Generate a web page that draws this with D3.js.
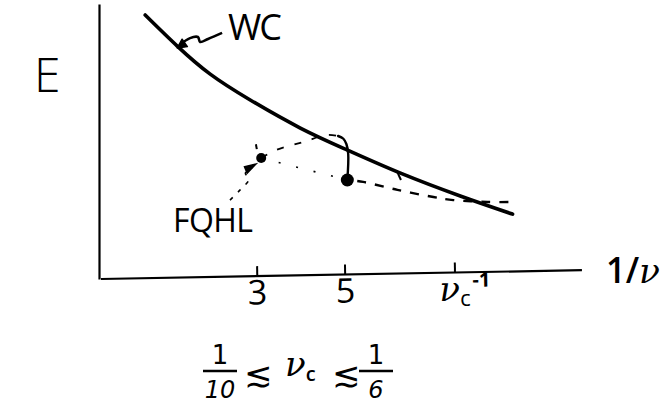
<!DOCTYPE html>
<html><head><meta charset="utf-8">
<script src="https://cdn.jsdelivr.net/npm/d3@7"></script>
<style>html,body{margin:0;padding:0;background:#fff}</style>
</head><body><svg id="chart" width="667" height="405"></svg>
<script>
// Wigner crystal (WC) energy against inverse filling 1/ν
const wcInvNu  = [0.46, 1.19, 1.94, 2.85, 3.99, 5.06, 6.27, 7.63, 8.82];
const wcEnergy = [9.6, 8.47, 7.45, 6.51, 5.49, 4.69, 3.85, 3.02, 2.36];

// FQHL cusp minima at ν = 1/3 and ν = 1/5
const cuspInvNu  = [3.1, 5.06];
const cuspEnergy = [4.4, 3.6];

// FQHL branch rising from the 1/3 cusp toward the WC curve (dashed)
const riseInvNu  = [3.1, 3.44, 4.06, 4.6, 4.85];
const riseEnergy = [4.4, 4.69, 4.98, 5.24, 5.2];
// ...and falling sharply into the 1/5 cusp (solid)
const dropInvNu  = [4.85, 4.97, 5.04, 5.08, 5.06];
const dropEnergy = [5.2, 5.1, 4.9, 4.55, 3.6];

// line through the cusp minima, continued past the crossing with WC
const envInvNu  = [3.1, 5.06, 5.42, 6.2, 7.02, 7.47, 8.25, 8.75];
const envEnergy = [4.4, 3.6, 3.53, 3.24, 2.98, 2.87, 2.8, 2.8];

// axis ticks on 1/ν
const tickValues = [3, 5, 7.5];
const tickLabels = ["3", "5", "nu_c^-1"];

const svg = d3.select("#chart");
const x = d3.scaleLinear().domain([-0.5, 10.4]).range([103, 582]);
const y = d3.scaleLinear().domain([0, 10]).range([279, 4]);
const line = (xs, ys, curve) => d3.line().x(d => x(d[0])).y(d => y(d[1]))
  .curve(curve || d3.curveCatmullRom.alpha(0.5))(xs.map((v, i) => [v, ys[i]]));

const ink = "#000";
const sans = "'Open Sans', 'DejaVu Sans', sans-serif";
const serif = "'DejaVu Serif', serif";

// vertical E axis (no ticks)
svg.append("g").attr("transform", "translate(99,0)")
  .call(d3.axisLeft(y).tickValues([]).tickSizeOuter(0))
  .call(g => g.select(".domain").attr("stroke", ink).attr("stroke-width", 2.2));

// horizontal 1/ν axis, ticks pointing inward
const xAxis = svg.append("g")
  .attr("transform", "translate(0,279) rotate(-1.05,101,0)")
  .call(d3.axisBottom(x).tickValues(tickValues).tickSizeInner(-10).tickSizeOuter(0).tickPadding(4)
    .tickFormat((d, i) => tickLabels[i]));
xAxis.select(".domain").attr("stroke", ink).attr("stroke-width", 2.2).attr("d", "M101,0H582");
xAxis.selectAll(".tick line").attr("stroke", ink).attr("stroke-width", 2);
xAxis.selectAll(".tick text").attr("fill", ink).attr("font-family", sans)
  .attr("font-size", 34).attr("font-weight", 500);
xAxis.selectAll(".tick text").filter((d, i) => tickLabels[i] === "nu_c^-1")
  .text(null).attr("text-anchor", "start").attr("x", -16)
  .call(t => {
    t.append("tspan").attr("font-family", serif).attr("font-style", "italic").text("ν");
    t.append("tspan").attr("font-size", 22).attr("dy", "0.25em").text("c");
    t.append("tspan").attr("font-size", 20).attr("font-weight", 700).attr("dy", "-0.95em").attr("dx", 2).text("-1");
  });

// WC curve
svg.append("path").attr("d", line(wcInvNu, wcEnergy, d3.curveNatural))
  .attr("fill", "none").attr("stroke", ink).attr("stroke-width", 3.6).attr("stroke-linecap", "round");

// FQHL branches
svg.append("path").attr("d", line(riseInvNu, riseEnergy))
  .attr("fill", "none").attr("stroke", ink).attr("stroke-width", 1.8).attr("stroke-dasharray", "7,11");
svg.append("path").attr("d", line(dropInvNu, dropEnergy))
  .attr("fill", "none").attr("stroke", ink).attr("stroke-width", 2.4).attr("stroke-linecap", "round");
svg.append("path").attr("d", line(envInvNu.slice(0, 2), envEnergy.slice(0, 2), d3.curveLinear))
  .attr("fill", "none").attr("stroke", ink).attr("stroke-width", 1.6).attr("stroke-dasharray", "2,16");
svg.append("path").attr("d", line(envInvNu.slice(1), envEnergy.slice(1)))
  .attr("fill", "none").attr("stroke", ink).attr("stroke-width", 2.4).attr("stroke-dasharray", "9,9")
  .attr("stroke-dashoffset", -10);

// cusp dots
svg.selectAll("circle.cusp").data(cuspInvNu).join("circle").attr("class", "cusp")
  .attr("cx", d => x(d)).attr("cy", (d, i) => y(cuspEnergy[i]))
  .attr("r", (d, i) => i === 0 ? 5 : 6.5).attr("fill", ink);

// small strokes near the 1/3 cusp and on the WC curve
const markInvNu = [[2.98, 3.0], [6.18, 6.28]];
const markEnergy = [[4.9, 4.72], [3.95, 3.6]];
markInvNu.forEach((xs, i) => svg.append("path").attr("d", line(xs, markEnergy[i], d3.curveLinear))
  .attr("stroke", ink).attr("stroke-width", 2).attr("fill", "none"));

// leader from the FQHL label up to the 1/3 cusp
const fqLeadInvNu = [2.39, 2.62, 2.82, 2.74, 2.9];
const fqLeadEnergy = [2.87, 3.24, 3.62, 3.85, 4.05];
svg.append("path").attr("d", line(fqLeadInvNu, fqLeadEnergy))
  .attr("fill", "none").attr("stroke", ink).attr("stroke-width", 1.6).attr("stroke-dasharray", "4,7");
svg.append("path")
  .attr("d", `M${x(2.78)},${y(3.85)}L${x(2.98)},${y(4.18)}L${x(2.72)},${y(4.08)}Z`)
  .attr("fill", ink).attr("stroke", ink).attr("stroke-width", 1.5);

// squiggly leader from the WC label to the curve
const wcLeadInvNu = [2.21, 1.89, 1.71, 1.66, 1.48, 1.24];
const wcLeadEnergy = [8.95, 8.73, 8.62, 8.8, 8.76, 8.5];
svg.append("path").attr("d", line(wcLeadInvNu, wcLeadEnergy))
  .attr("fill", "none").attr("stroke", ink).attr("stroke-width", 2.6);
svg.append("path")
  .attr("d", `M${x(1.19)},${y(8.4)}L${x(1.3)},${y(8.72)}L${x(1.42)},${y(8.45)}Z`)
  .attr("fill", ink).attr("stroke", ink).attr("stroke-width", 1.5).attr("stroke-linejoin", "round");

// labels
const txt = (s, px, py, size, extra) => {
  const t = svg.append("text").attr("x", px).attr("y", py).attr("font-family", sans)
    .attr("font-size", size).attr("fill", ink).text(s);
  if (extra) extra(t);
  return t;
};
txt("E", 34, 92, 48, t => t.attr("font-weight", 300));
txt("WC", 228, 40, 36, t => t.attr("font-weight", 500).attr("textLength", 54));
txt("FQHL", 173, 232, 32, t => t.attr("font-weight", 400).attr("textLength", 80));

// 1/ν axis title
svg.append("text").attr("x", 606).attr("y", 283).attr("font-size", 36).attr("fill", ink)
  .attr("textLength", 54).attr("lengthAdjust", "spacingAndGlyphs")
  .call(t => {
    t.append("tspan").attr("font-family", sans).attr("font-weight", 600).text("1/");
    t.append("tspan").attr("font-family", serif).attr("font-style", "italic").text("ν");
  });

// range of the critical filling: 1/10 ≲ ν_c ≲ 1/6
const fracFont = "'DejaVu Sans', sans-serif";
const frac = (num, den, cx) => {
  txt(num, cx, 364, 26, t => t.attr("text-anchor", "middle").attr("font-family", fracFont));
  svg.append("line").attr("x1", cx - 17).attr("x2", cx + 17).attr("y1", 371).attr("y2", 371)
    .attr("stroke", ink).attr("stroke-width", 2.4);
  txt(den, cx, 398, 24, t => t.attr("text-anchor", "middle").attr("font-family", fracFont)
    .attr("font-style", "italic"));
};
frac("1", "10", 220);
frac("1", "6", 376);
txt("≲", 244, 386, 34, t => t.attr("font-family", "'DejaVu Sans', sans-serif"));
txt("≲", 332, 386, 34, t => t.attr("font-family", "'DejaVu Sans', sans-serif"));
svg.append("text").attr("x", 285).attr("y", 376).attr("font-size", 34).attr("fill", ink)
  .call(t => {
    t.append("tspan").attr("font-family", serif).attr("font-style", "italic").text("ν");
    t.append("tspan").attr("font-family", sans).attr("font-weight", 600).attr("font-size", 20).attr("dy", "0.25em").text("c");
  });
</script></body></html>
